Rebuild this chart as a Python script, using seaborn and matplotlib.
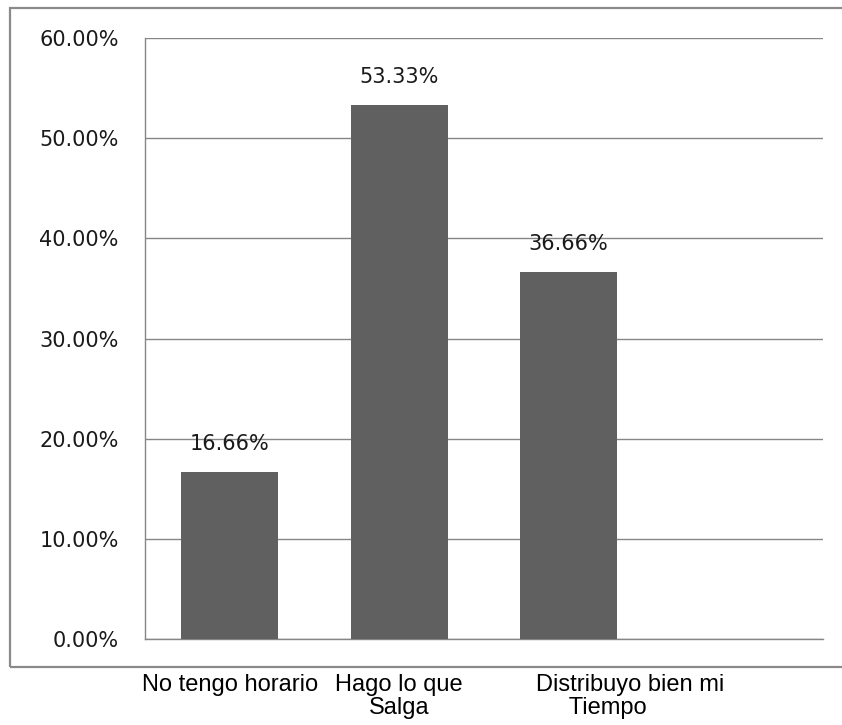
import matplotlib
matplotlib.use("Agg")
import matplotlib.pyplot as plt
import matplotlib.transforms as mtransforms
from matplotlib.patches import Rectangle
from matplotlib.ticker import FuncFormatter
import seaborn as sns
import pandas as pd

categories = ["No tengo horario", "Hago lo que\nSalga", "Distribuyo bien mi\n     Tiempo"]
values = [16.66, 53.33, 36.66]
y_ticks = [0, 10, 20, 30, 40, 50, 60]

sns.set_theme(style="white")
plt.rcParams["font.family"] = ["DejaVu Sans"]

df = pd.DataFrame({"categoria": categories, "porcentaje": values})

fig = plt.figure(figsize=(8.42, 7.25), dpi=100)
ax = fig.add_axes([145 / 842, 1 - 639 / 725, (823 - 145) / 842, (639 - 38) / 725])

# outer chart frame
fig.patches.append(Rectangle((10 / 842, 1 - 667 / 725), 1.0, (667 - 8) / 725,
                             transform=fig.transFigure, fill=False,
                             edgecolor="#8a8a8a", linewidth=1.6, zorder=0))

sns.barplot(data=df, x="categoria", y="porcentaje", color="#606060",
            saturation=1, width=0.57, linewidth=0, ax=ax, zorder=3)

ax.set_xlim(-0.5, 3.5)
ax.set_ylim(0, 60)
ax.set_yticks(y_ticks)
ax.yaxis.set_major_formatter(FuncFormatter(lambda v, _: f"{v:.2f}%"))
ax.grid(axis="y", color="#868686", linewidth=1.0, zorder=0)
ax.set_axisbelow(True)

for side in ("top", "right"):
    ax.spines[side].set_visible(False)
for side in ("left", "bottom"):
    ax.spines[side].set_color("#868686")
    ax.spines[side].set_linewidth(1.0)

ax.tick_params(axis="y", length=0, pad=19, labelsize=15, labelcolor="#1a1a1a")
ax.tick_params(axis="x", length=0, pad=25, labelcolor="#000000")
ax.set_xlabel("")
ax.set_ylabel("")

for lbl in ax.get_xticklabels():
    lbl.set_fontfamily("Liberation Sans")
    lbl.set_fontsize(17)
    lbl.set_linespacing(1.1)
    lbl.set_multialignment("left" if "Distribuyo" in lbl.get_text() else "center")

# the wrapped third label sits to the right of its bar
labels = ax.get_xticklabels()
labels[2].set_transform(labels[2].get_transform() +
                        mtransforms.ScaledTranslation(61 / 100, 0, fig.dpi_scale_trans))

ax.bar_label(ax.containers[0], labels=[f"{v:.2f}%" for v in values],
             padding=13, fontsize=15, color="#1a1a1a")

fig.savefig("out.png", dpi=100)
